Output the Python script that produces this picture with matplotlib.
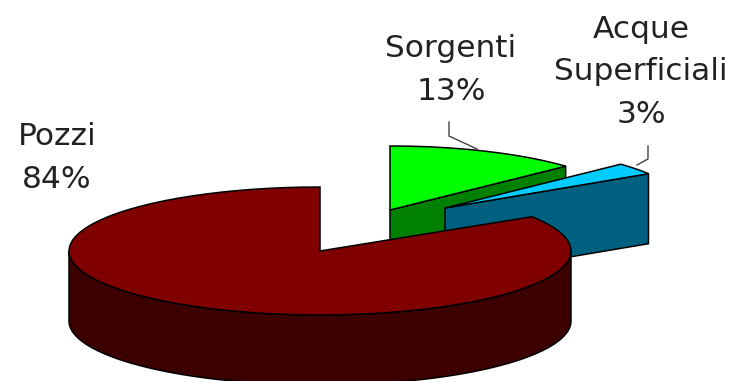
import numpy as np
import matplotlib
matplotlib.use("Agg")
import matplotlib.pyplot as plt

# Share of water supply by source
names = ["Sorgenti", "Acque\nSuperficiali", "Pozzi"]
values = [13, 3, 84]

top_colors = ["#00FF00", "#00CCFF", "#800000"]
side_colors = ["#008000", "#006080", "#3C0000"]

# apex of each slice, in pixels (the first two are pulled out of the pie)
apex_x = [390, 445, 320]
apex_y = [210, 208, 251]
radius_x = [241, 241, 251]
radius_y = 64
depth = 70

label_x = [451, 641, 57]
label_y = [70, 72, 158]
label_text = [n + "\n" + str(v) + "%" for n, v in zip(names, values)]


def rim(i, a, b):
    # points on the slice edge, angles clockwise from 12 o'clock
    t = np.radians(np.linspace(a, b, 80))
    x = apex_x[i] + radius_x[i] * np.sin(t)
    y = apex_y[i] - radius_y * np.cos(t)
    return x, y


fig = plt.figure(figsize=(7.44, 3.81), dpi=100)
ax = fig.add_axes([0, 0, 1, 1])
ax.set_xlim(0, 744)
ax.set_ylim(381, 0)
ax.axis("off")

# slice angles from the values
edges = np.concatenate([[0], np.cumsum(values)]) * 360 / sum(values)

# back slices first: flat cut face, then the top
for i in range(2):
    x, y = rim(i, edges[i], edges[i + 1])
    ax.fill([apex_x[i], x[-1], x[-1], apex_x[i]],
            [apex_y[i], y[-1], y[-1] + depth, apex_y[i] + depth],
            facecolor=side_colors[i], edgecolor="black", lw=1.1, zorder=2 + i)
    ax.fill(np.r_[apex_x[i], x], np.r_[apex_y[i], y],
            facecolor=top_colors[i], edgecolor="black", lw=1.1, zorder=2 + i)

# big slice: front wall and top
x, y = rim(2, 90, 270)
ax.fill(np.r_[x, x[::-1]], np.r_[y, y[::-1] + depth],
        facecolor=side_colors[2], edgecolor="black", lw=1.1, zorder=5)
x, y = rim(2, edges[2], edges[3])
ax.fill(np.r_[apex_x[2], x], np.r_[apex_y[2], y],
        facecolor=top_colors[2], edgecolor="black", lw=1.1, zorder=6)

# leader lines
ax.plot([449, 449, 477], [122, 136, 149], color="#444444", lw=1, zorder=1)
ax.plot([648, 648, 637], [146, 159, 165], color="#444444", lw=1, zorder=1)

for i in range(3):
    ax.text(label_x[i], label_y[i], label_text[i], ha="center", va="center",
            fontsize=22.5, family="DejaVu Sans", color="#222222", linespacing=1.58)

fig.savefig("out.png", dpi=100)
